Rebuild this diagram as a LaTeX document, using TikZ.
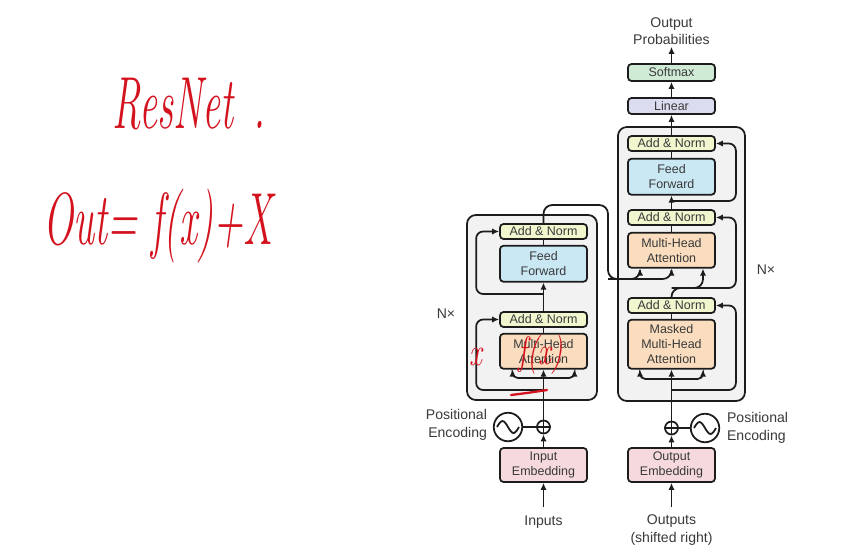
\documentclass[tikz,border=0pt]{standalone}
\usepackage{fontspec}
\setsansfont{Liberation Sans}
\usetikzlibrary{arrows.meta, positioning, calc}
\definecolor{InkGray}{HTML}{3A3A3A}
\definecolor{EdgeDark}{HTML}{1C1C1C}
\definecolor{BlockGray}{HTML}{F2F2F2}
\definecolor{NormYellow}{HTML}{F1F6CF}
\definecolor{FeedBlue}{HTML}{C9E8F3}
\definecolor{AttnPeach}{HTML}{FADDBE}
\definecolor{LinearLilac}{HTML}{DCDCF0}
\definecolor{SoftGreen}{HTML}{D0EBD5}
\definecolor{EmbedPink}{HTML}{F5D9DD}
\definecolor{PenRed}{HTML}{D3121E}

\begin{document}
\begin{tikzpicture}[
    x=0.02cm,
    y=-0.02cm,
    font=\sffamily,
    every node/.style={text=InkGray},
    layerbox/.style={draw=EdgeDark, line width=1pt, rounded corners=2pt, minimum width=1.74cm, inner sep=0pt, align=center, font=\sffamily\fontsize{7.1}{8.5}\selectfont},
    normbox/.style={layerbox, fill=NormYellow, minimum height=0.3cm},
    feedbox/.style={layerbox, fill=FeedBlue, minimum height=0.72cm},
    attnbox/.style={layerbox, fill=AttnPeach, minimum height=0.7cm},
    embedbox/.style={layerbox, fill=EmbedPink, minimum height=0.68cm},
    stackbox/.style={draw=EdgeDark, fill=BlockGray, line width=1pt, rounded corners=5pt, inner sep=0pt},
    plusnode/.style={circle, draw=EdgeDark, line width=1pt, minimum size=0.26cm, inner sep=0pt},
    wavenode/.style={circle, draw=EdgeDark, line width=1pt, minimum size=0.57cm, inner sep=0pt},
    flow/.style={-{Latex[length=4pt,width=3.6pt]}, draw=EdgeDark, line width=1pt},
    wire/.style={draw=EdgeDark, line width=1pt},
    outerlabel/.style={font=\sffamily\fontsize{8}{10}\selectfont, align=center, inner sep=1pt},
    pen/.style={text=PenRed, font=\rmfamily\itshape\fontsize{30}{30}\selectfont, xscale=0.76, yscale=1.4},
    pensmall/.style={text=PenRed, font=\rmfamily\itshape\fontsize{18}{18}\selectfont, xscale=0.9, yscale=1.25}
]

\fill[white] (0,0) rectangle (861,558);
\useasboundingbox (0,0) rectangle (861,558);

% stacks
\node[stackbox, minimum width=2.6cm, minimum height=3.7cm] (encBlock) at (532,307.5) {};
\node[stackbox, minimum width=2.54cm, minimum height=5.48cm] (decBlock) at (681.5,264) {};

% encoder
\node[normbox] (encAN2) at (543.5,231.5) {Add \& Norm};
\node[feedbox, below=0.1cm of encAN2] (encFF) {Feed\\Forward};
\node[normbox] (encAN1) at (543.5,319.5) {Add \& Norm};
\node[attnbox, below=0.1cm of encAN1] (encMHA) {Multi-Head\\Attention};
\node[embedbox] (encEmb) at (543.5,465) {Input\\Embedding};
\node[plusnode] (encPlus) at (543.5,427) {};
\node[wavenode] (encPE) at (508,427) {};
\node[outerlabel, anchor=east, align=right] (encPELabel) at (489,425) {Positional\\Encoding};
\node[outerlabel] (inputs) at (543.5,522) {Inputs};
\node[outerlabel] (encN) at (446,314) {N×};

% decoder
\node[normbox] (decAN3) at (671.5,143.5) {Add \& Norm};
\node[feedbox, below=0.12cm of decAN3] (decFF) {Feed\\Forward};
\node[normbox] (decAN2) at (671.5,217.5) {Add \& Norm};
\node[attnbox, below=0.12cm of decAN2] (decMHA) {Multi-Head\\Attention};
\node[normbox] (decAN1) at (671.5,305.5) {Add \& Norm};
\node[attnbox, minimum height=0.98cm, below=0.1cm of decAN1] (decMMHA) {Masked\\Multi-Head\\Attention};
\node[embedbox] (decEmb) at (671.5,465) {Output\\Embedding};
\node[plusnode] (decPlus) at (671.5,428) {};
\node[wavenode] (decPE) at (705,428) {};
\node[outerlabel, anchor=west, align=left] (decPELabel) at (725,428) {Positional\\Encoding};
\node[outerlabel] (outputs) at (671.5,530) {Outputs\\(shifted right)};
\node[outerlabel] (decN) at (766,270) {N×};

\node[layerbox, fill=LinearLilac, minimum height=0.32cm] (linear) at (671.5,106) {Linear};
\node[layerbox, fill=SoftGreen, minimum height=0.34cm] (softmax) at (671.5,72.5) {Softmax};
\node[outerlabel] (outProb) at (671.5,31) {Output\\Probabilities};

\coordinate (encFork) at (543.5,378);
\coordinate (encRes1) at (543.5,390);
\coordinate (encRes2) at (543.5,294);
\coordinate (memTop) at (608,205);
\coordinate (memLow) at (608,279);
\coordinate (decFork) at (671.5,379);
\coordinate (decRes1) at (671.5,390);
\coordinate (decSplit) at (671.5,288);
\coordinate (decRes3) at (671.5,201);

% encoder wiring
\draw[flow, shorten <=4pt] (inputs) -- (encEmb);
\draw[flow] (encEmb) -- (encPlus);
\draw[wire] (encPE) -- (encPlus);
\draw[wire] (encPlus.west) -- (encPlus.east);
\draw[wire] ($(encPE.center)+(-11,0)$) sin ++(5.5,-6) cos ++(5.5,6) sin ++(5.5,6) cos ++(5.5,-6);
\draw[flow] (encPlus.south) -- (encMHA.south);
\draw[flow, rounded corners=3pt] (encFork) -| ([xshift=-0.62cm]encMHA.south);
\draw[flow, rounded corners=3pt] (encFork) -| ([xshift=0.62cm]encMHA.south);
\draw[flow, rounded corners=4pt] (encRes1) -| ([xshift=-0.46cm]encAN1.west) -- (encAN1.west);
\draw[wire] (encMHA) -- (encAN1);
\draw[flow] (encAN1) -- (encFF);
\draw[flow, rounded corners=4pt] (encRes2) -| ([xshift=-0.46cm]encAN2.west) -- (encAN2.west);
\draw[wire] (encFF) -- (encAN2);
\draw[flow, rounded corners=5pt] (encAN2.north) |- (memTop) -- (memLow) -| ([xshift=-0.63cm]decMHA.south);
\draw[flow, rounded corners=5pt] (memLow) -| (decMHA.south);

% decoder wiring
\draw[flow, shorten <=3pt] (outputs) -- (decEmb);
\draw[flow] (decEmb) -- (decPlus);
\draw[wire] (decPE) -- (decPlus);
\draw[wire] (decPlus.west) -- (decPlus.east);
\draw[wire] ($(decPE.center)+(-11,0)$) sin ++(5.5,-6) cos ++(5.5,6) sin ++(5.5,6) cos ++(5.5,-6);
\draw[flow] (decPlus.south) -- (decMMHA.south);
\draw[flow, rounded corners=3pt] (decFork) -| ([xshift=-0.63cm]decMMHA.south);
\draw[flow, rounded corners=3pt] (decFork) -| ([xshift=0.63cm]decMMHA.south);
\draw[flow, rounded corners=4pt] (decRes1) -| ([xshift=0.4cm]decAN1.east) -- (decAN1.east);
\draw[wire] (decMMHA) -- (decAN1);
\draw[flow, rounded corners=5pt] (decAN1.north) -- (decSplit) -| ([xshift=0.63cm]decMHA.south);
\draw[flow, rounded corners=4pt] (decSplit) -| ([xshift=0.4cm]decAN2.east) -- (decAN2.east);
\draw[wire] (decMHA) -- (decAN2);
\draw[flow] (decAN2) -- (decFF);
\draw[flow, rounded corners=4pt] (decRes3) -| ([xshift=0.4cm]decAN3.east) -- (decAN3.east);
\draw[wire] (decFF) -- (decAN3);
\draw[flow] (decAN3) -- (linear);
\draw[flow] (linear) -- (softmax);
\draw[flow] (softmax) -- (outProb);

% pen notes
\node[pen] (resnetNote) at (189,104) {ResNet\hspace{0.5em}.};
\node[pen] (outNote) at (158,226) {Out= f(x)+X};
\node[pensmall] (xNote) at (476,357) {x};
\node[pensmall] (fxNote) at (541,355) {f(x)};
\draw[PenRed, line width=1.3pt, line cap=round] (511,395) .. controls (527,393) .. (547,390);

\end{tikzpicture}
\end{document}
